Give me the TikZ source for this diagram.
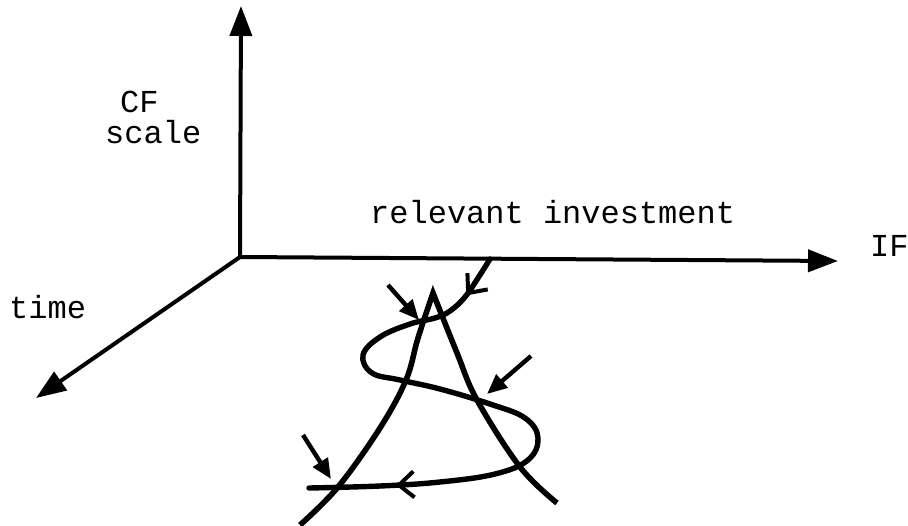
\documentclass[tikz,border=0pt]{standalone}
\usepackage{fontspec}
\setmainfont{Liberation Mono}
\usetikzlibrary{arrows.meta,decorations.markings}
\begin{document}
\begin{tikzpicture}[x=1pt,y=-1pt,
  axis/.style={line width=4pt,-{Triangle[length=30pt,width=22pt]}},
  pointer/.style={line width=4.4pt,-{Triangle[length=20pt,width=17pt]}},
  curveline/.style={line width=5.4pt,line cap=round,line join=round},
  lbl/.style={inner sep=0pt,anchor=base west,font=\fontsize{32}{36}\selectfont}]
\useasboundingbox (0,0) rectangle (908,525);
\coordinate (O) at (240,257);
\coordinate (yend) at (241,6);
\coordinate (tend) at (36,398);
\coordinate (xend) at (838,261);
\draw[axis] (O) -- (yend);
\draw[axis] (O) -- (tend);
\draw[axis] (O) -- (xend);
\node[lbl] (cf) at (120,112) {CF};
\node[lbl] (sc) at (105,143) {scale};
\node[lbl] (tm) at (9,318) {time};
\node[lbl] (ri) at (370,223) {relevant investment};
\node[lbl] (if) at (870,256) {IF};
% the A shape
\draw[curveline,line join=miter,line cap=butt,line width=5.6pt]
  plot[smooth,tension=0.6] coordinates {(300,525) (338,487) (380,428) (406,380) (418,338) (433,293)}
  -- plot[smooth,tension=0.6] coordinates {(433,293) (457,353) (477,400) (520,467) (557,503)};
% the spiral curve
\draw[curveline,postaction={decorate},decoration={markings,
   mark=at position 0.07 with {\arrow{Straight Barb[length=15pt,width=26pt,line width=4pt]}},
   mark=at position 0.86 with {\arrow{Straight Barb[length=15pt,width=26pt,line width=4pt]}}}]
  plot[smooth,tension=0.65] coordinates {(490,259) (478,278) (465,297) (450,311) (435,318) (410,324) (380,337) (363,355) (372,373) (400,380) (440,389) (490,404) (525,418) (538,438) (528,460) (495,474) (440,482) (380,486) (309,488)};
% small pointers
\coordinate (p1a) at (388,285); \coordinate (p1b) at (419,320);
\coordinate (p2a) at (531,356); \coordinate (p2b) at (487,394);
\coordinate (p3a) at (303,435); \coordinate (p3b) at (331,479);
\draw[pointer] (p1a) -- (p1b);
\draw[pointer] (p2a) -- (p2b);
\draw[pointer] (p3a) -- (p3b);
\end{tikzpicture}
\end{document}
